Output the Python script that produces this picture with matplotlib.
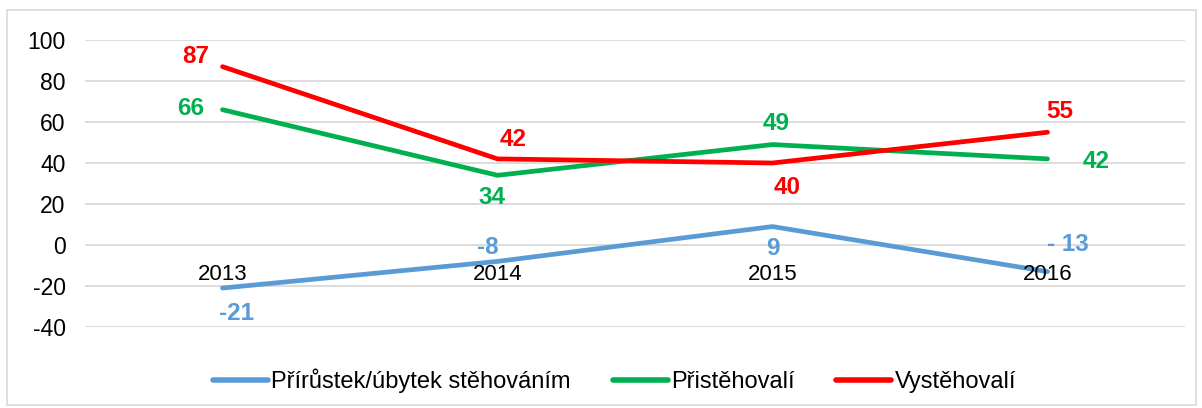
import matplotlib
matplotlib.use("Agg")
import matplotlib.pyplot as plt
from matplotlib.patches import Rectangle

plt.rcParams['font.family'] = ['Liberation Sans', 'DejaVu Sans']

years = ["2013", "2014", "2015", "2016"]
saldo = [-21, -8, 9, -13]
prist = [66, 34, 49, 42]
vyst = [87, 42, 40, 55]
saldo_labels = ["-21", "-8", "9", "- 13"]
prist_labels = ["66", "34", "49", "42"]
vyst_labels = ["87", "42", "40", "55"]
legend_names = ["Přírůstek/úbytek stěhováním", "Přistěhovalí", "Vystěhovalí"]
yticks = [-40, -20, 0, 20, 40, 60, 80, 100]

c_blue = "#5B9BD5"
c_green = "#00B050"
c_red = "#FF0000"

# label offsets in pixels (dx, dy), positive dy = up
off_saldo = [(14, -25), (-10, 14), (0, -22), (20, 27)]
off_prist = [(-32, 1), (-6, -22), (4, 21), (49, -3)]
off_vyst = [(-27, 10), (16, 19), (15, -24), (12, 21)]

fig = plt.figure(figsize=(12.02, 4.08), dpi=100)
fig.patches.append(Rectangle((7/1202, 3/408), 1189/1202, 395/408, transform=fig.transFigure,
                             fill=False, edgecolor="#D9D9D9", linewidth=1.2))
ax = fig.add_axes([85/1202, 1-327/408, 1100/1202, 287/408])
x = list(range(len(years)))
lw = 3.4
l1, = ax.plot(x, saldo, color=c_blue, lw=lw, solid_capstyle='round', zorder=3)
l2, = ax.plot(x, prist, color=c_green, lw=lw, solid_capstyle='round', zorder=3)
l3, = ax.plot(x, vyst, color=c_red, lw=lw, solid_capstyle='round', zorder=3)

ax.set_xlim(-0.5, 3.5)
ax.set_ylim(-40, 100)
ax.set_yticks(yticks)
ax.set_yticklabels([str(v) for v in yticks], fontsize=16.5)
ax.tick_params(axis='y', length=0, pad=14)
ax.set_xticks([])
ax.grid(axis='y', color="#D9D9D9", lw=1.3, zorder=0)
for s in ax.spines.values():
    s.set_visible(False)

px = 72 / 100
for i, yr in enumerate(years):
    ax.annotate(yr, (i, 0), xytext=(0, -29 * px), textcoords='offset points',
                ha='center', va='center', fontsize=16, color='black', zorder=4)

for vals, labs, offs, col in [(saldo, saldo_labels, off_saldo, c_blue),
                              (prist, prist_labels, off_prist, c_green),
                              (vyst, vyst_labels, off_vyst, c_red)]:
    for i, (v, t, o) in enumerate(zip(vals, labs, offs)):
        ax.annotate(t, (i, v), xytext=(o[0] * px, o[1] * px), textcoords='offset points',
                    ha='center', va='center', fontsize=17.5, fontweight='bold', color=col, zorder=5)

leg = fig.legend([l1, l2, l3], legend_names, loc='center', bbox_to_anchor=(614.5/1202, 1-381/408),
                 ncol=3, frameon=False, fontsize=17, handlelength=2.33, handletextpad=0.13,
                 columnspacing=1.78)
for h in leg.get_lines():
    h.set_linewidth(4)

fig.savefig("out.png", dpi=100)
